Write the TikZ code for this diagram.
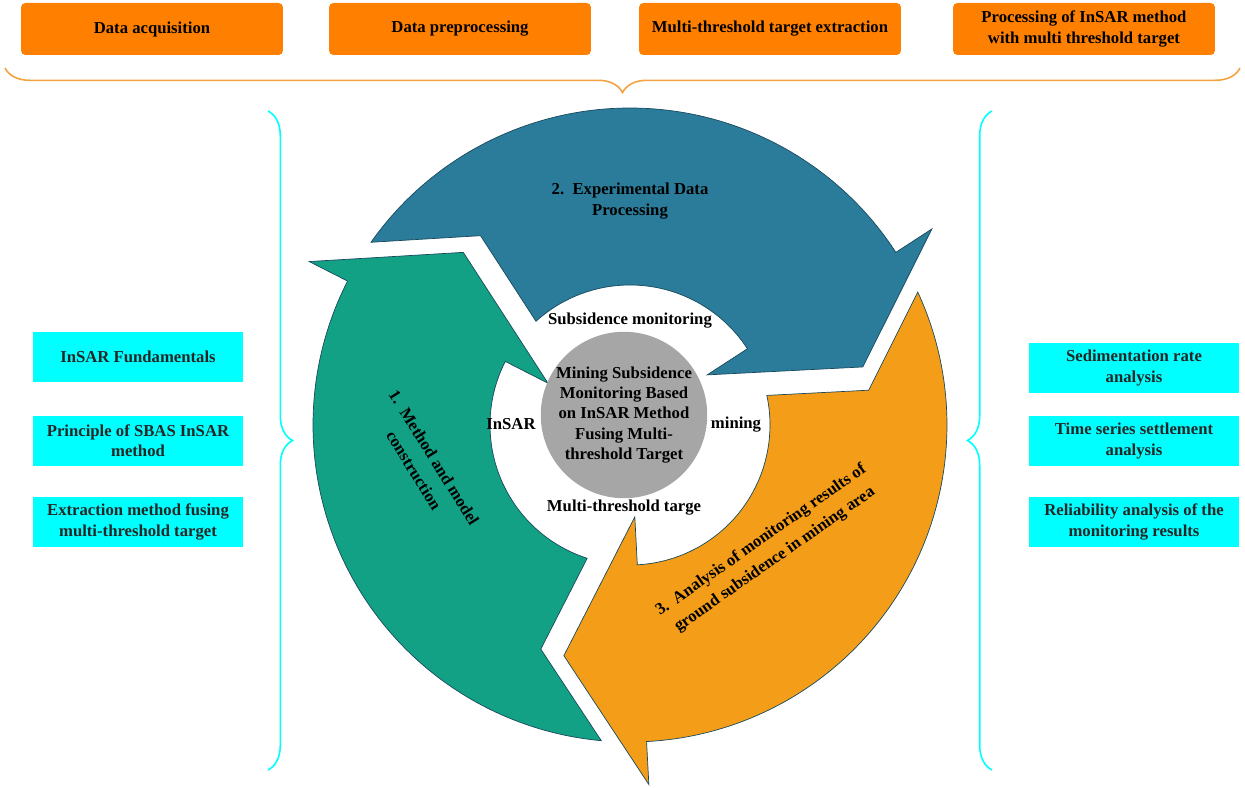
\documentclass[tikz,border=0pt]{standalone}
\usepackage{fontspec}
\setmainfont{Liberation Serif}
\usetikzlibrary{decorations.pathreplacing}
\definecolor{boxorange}{RGB}{255,128,0}
\definecolor{braceorange}{RGB}{244,162,64}
\definecolor{boxcyan}{RGB}{0,255,255}
\definecolor{cycteal}{RGB}{19,161,134}
\definecolor{cycblue}{RGB}{42,124,154}
\definecolor{cycorange}{RGB}{243,157,24}
\definecolor{hubgray}{RGB}{166,166,166}
\tikzset{
  bftext/.style={font=\bfseries\fontsize{9.5}{11.5}\selectfont, align=center},
  slanttext/.style={font=\bfseries\fontsize{9.5}{13.5}\selectfont, align=center, inner sep=1pt},
  topbox/.style={bftext, fill=boxorange, rounded corners=2.5pt, minimum width=5.24cm, minimum height=1.04cm, inner sep=2pt},
  sidebox/.style={bftext, fill=boxcyan, text=black!85, minimum width=4.2cm, minimum height=1cm, inner sep=2pt},
  ringarrow/.style={fill=#1, draw=cycblue!60!black, line width=0.4pt},
  curly/.style={draw=#1, line width=0.9pt, decorate, decoration={brace, amplitude=14pt}},
}

\begin{document}
\begin{tikzpicture}[x=0.02cm, y=0.02cm]
\useasboundingbox (0,0) rectangle (1245,788);
\node[topbox] (acq) at (152,759) {Data acquisition};
\node[topbox] (prep) at (460,759) {Data preprocessing};
\node[topbox] (extr) at (770,759) {Multi-threshold target extraction};
\node[topbox] (proc) at (1084,759) {Processing of InSAR method\\with multi threshold target};
\coordinate (topL) at (5,720);
\coordinate (topR) at (1240,720);
\draw[curly=braceorange] (topR) -- (topL);

\node[sidebox] (fund) at (138,431) {InSAR Fundamentals};
\node[sidebox] (sbas) at (138,347) {Principle of SBAS InSAR\\method};
\node[sidebox] (fuse) at (138,266) {Extraction method fusing\\multi-threshold target};
\coordinate (leftT) at (268,677);
\coordinate (leftB) at (268,18);
\draw[curly=boxcyan] (leftT) -- (leftB);

\node[sidebox] (rate) at (1134,420) {Sedimentation rate\\analysis};
\node[sidebox] (series) at (1134,347) {Time series settlement\\analysis};
\node[sidebox] (reliab) at (1134,266) {Reliability analysis of the\\monitoring results};
\coordinate (rightB) at (992,18);
\coordinate (rightT) at (992,677);
\draw[curly=boxcyan] (rightB) -- (rightT);

\begin{scope}[shift={(630,363)}]
\foreach \ang/\col in {0/cycorange,120/cycblue,240/cycteal}
  \filldraw[ringarrow=\col, rotate=\ang] (24.8:317) arc[start angle=24.8, end angle=-87, radius=317]
    -- (-87:360) -- (-106:240) -- (-87:92) -- (-87:140)
    arc[start angle=-87, end angle=12.2, radius=140] -- (238.7,34.8) -- cycle;
\end{scope}

\node[circle, fill=hubgray, minimum size=3.2cm, inner sep=0pt, bftext] (hub) at (624,373)
  {Mining Subsidence\\Monitoring Based\\on InSAR Method\\Fusing Multi-\\threshold Target};
\node[bftext] (lblsub) at (630,467) {Subsidence monitoring};
\node[bftext] (lblinsar) at (511,364) {InSAR};
\node[bftext] (lblmining) at (736,363) {mining};
\node[bftext] (lblmulti) at (624,280) {Multi-threshold targe};

\node[bftext] (step2) at (630,587) {2.~~Experimental Data\\Processing};
\node[slanttext, rotate=-58] (step1) at (424,324) {1.~~Method and model\\construction};
\node[slanttext, rotate=35] (step3) at (768,238) {3.~~Analysis of monitoring results of\\ground subsidence in mining area};
\end{tikzpicture}
\end{document}
